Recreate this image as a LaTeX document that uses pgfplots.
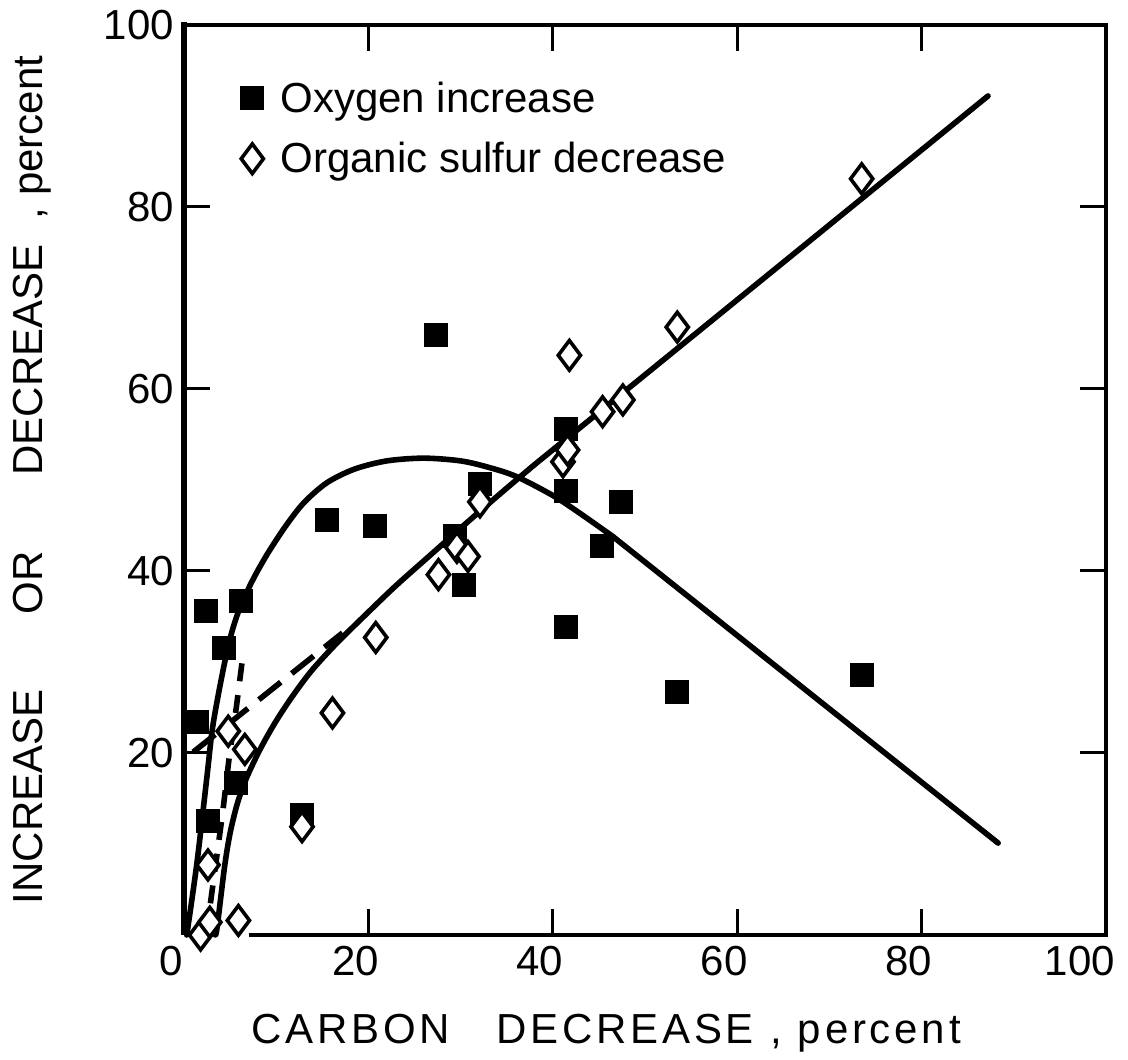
\documentclass[border=0pt]{standalone}
\usepackage{fontspec}
\setmainfont{Liberation Sans}
\newfontfamily\spacedfont[LetterSpace=9]{Liberation Sans}
\usepackage{pgfplots}
\usepackage{pgfplotstable}
\pgfplotsset{compat=1.18}

% Measured points
\pgfplotstableread{
x    y
1.4  23.4
2.4  35.6
2.6  12.5
4.3  31.5
6.2  36.7
5.6  16.7
12.8 13.2
15.5 45.6
20.7 44.9
27.3 65.9
29.4 43.8
30.4 38.5
32.1 49.6
41.4 55.6
41.4 48.8
41.4 33.8
47.4 47.6
45.3 42.8
53.5 26.7
73.5 28.6
}\oxygen

\pgfplotstableread{
x    y
1.8  0.0
2.8  1.4
5.9  1.6
2.6  7.7
4.8  22.4
6.6  20.4
12.8 11.9
16.1 24.4
20.8 32.7
27.6 39.6
29.6 42.6
30.8 41.6
32.1 47.6
41.1 52.0
41.6 53.3
41.8 63.7
45.4 57.5
47.6 58.8
53.5 66.8
73.5 83.1
}\sulfur

\newcommand{\bigfont}{\fontsize{21}{25}\selectfont}

\begin{document}
\begin{tikzpicture}
\begin{axis}[
  name=ax,
  scale only axis,
  width=461pt, height=455pt,
  xmin=0, xmax=100, ymin=0, ymax=100,
  clip=false,
  axis line style={draw=none},
  xtick={0,20,...,80},
  extra x ticks={100},
  extra x tick style={xticklabel style={xshift=-6.5pt}},
  ytick={20,40,...,100},
  tick align=inside,
  major tick length=13pt,
  every tick/.style={line width=1.5pt, black},
  tick label style={font=\bigfont},
  /pgf/number format/assume math mode=true,
  xticklabel style={xshift=-6.5pt, yshift=-2pt},
  yticklabel style={xshift=-1.5pt},
  label style={font=\bigfont},
  xlabel={\spacedfont CARBON\hspace{1.1em}DECREASE\hspace{0.4em}, percent},
  x label style={at={(axis description cs:0.458,-0.1187)}, anchor=base},
  ylabel={INCREASE\hspace{1.8em}OR\hspace{1.8em}DECREASE\hspace{0.6em}, percent},
  y label style={at={(axis description cs:-0.153,0.5)}, anchor=base},
  legend cell align=left,
  legend style={at={(axis description cs:0.055,0.947)}, anchor=north west,
    draw=none, fill=none, font=\bigfont, row sep=9.5pt,
    /tikz/every odd column/.append style={column sep=6.5pt}},
]

% Frame: the bottom edge stops short of the origin
\draw[line width=2.4pt, line join=miter]
  (axis cs:7,0) -- (axis cs:100,0) -- (axis cs:100,100) -- (axis cs:0,100);
\draw[line width=3.3pt] (axis cs:0,100.3) -- (axis cs:0,0);

% Oxygen curve: rise, broad maximum, then straight decline
\addplot[forget plot, smooth, line width=2.8pt, line cap=round] coordinates {
  (0.3,0) (1.4,7.9) (2.5,17.5) (3.1,22.8) (4.1,28.4) (5.0,32.6) (6.0,35.8)
  (7.4,38.9) (9.0,41.8) (11,44.9) (13,47.5) (15.5,49.7) (18.5,51.2)
  (22,52.1) (26,52.4) (30,52.1) (33,51.4) (36,50.4) (40,48.3) (43,46.3) (46.5,43.8)
};
\addplot[forget plot, line width=2.8pt, line cap=round] coordinates {
  (46.5,43.8) (88.3,10.1)
};

% Organic sulfur curve joining its straight line
\addplot[forget plot, smooth, line width=2.8pt, line cap=round] coordinates {
  (3.4,0) (3.6,0.9) (4.4,7.5) (5.0,11.2) (5.8,14.5) (6.8,17.3) (8.2,20.3)
  (9.8,23.2) (11.6,26.0) (13.8,29.0) (16.5,32.0) (19.5,35.0) (23,38.4)
  (27,42.0) (31,45.6) (35,49.1) (38,51.67)
};
\addplot[forget plot, line width=2.8pt, line cap=round] coordinates {
  (38,51.67) (87.2,92.2)
};

% Dashed extensions near the origin
\addplot[forget plot, line width=2.8pt, dash pattern=on 14pt off 7pt] coordinates {
  (1.0,20.1) (17.2,33.2)
};
\addplot[forget plot, line width=2.8pt, dash pattern=on 9pt off 7pt] coordinates {
  (2.4,0) (4.2,13.5) (4.9,19.5) (5.7,25.2) (6.3,30)
};

\addplot[only marks, mark=square*, mark size=5.6pt,
  mark options={fill=black, draw=black, line width=0.8pt, rounded corners=1pt}]
  table[x=x, y=y] {\oxygen};
\addlegendentry{Oxygen increase}

\addplot[only marks, mark=diamond*, mark size=7.4pt,
  mark options={fill=white, draw=black, line width=1.8pt}]
  table[x=x, y=y] {\sulfur};
\addlegendentry{Organic sulfur decrease}

\end{axis}
\pgfresetboundingbox
\path ([shift={(-92pt,-62pt)}]ax.south west) rectangle ([shift={(11pt,12.5pt)}]ax.north east);
\end{tikzpicture}
\end{document}
